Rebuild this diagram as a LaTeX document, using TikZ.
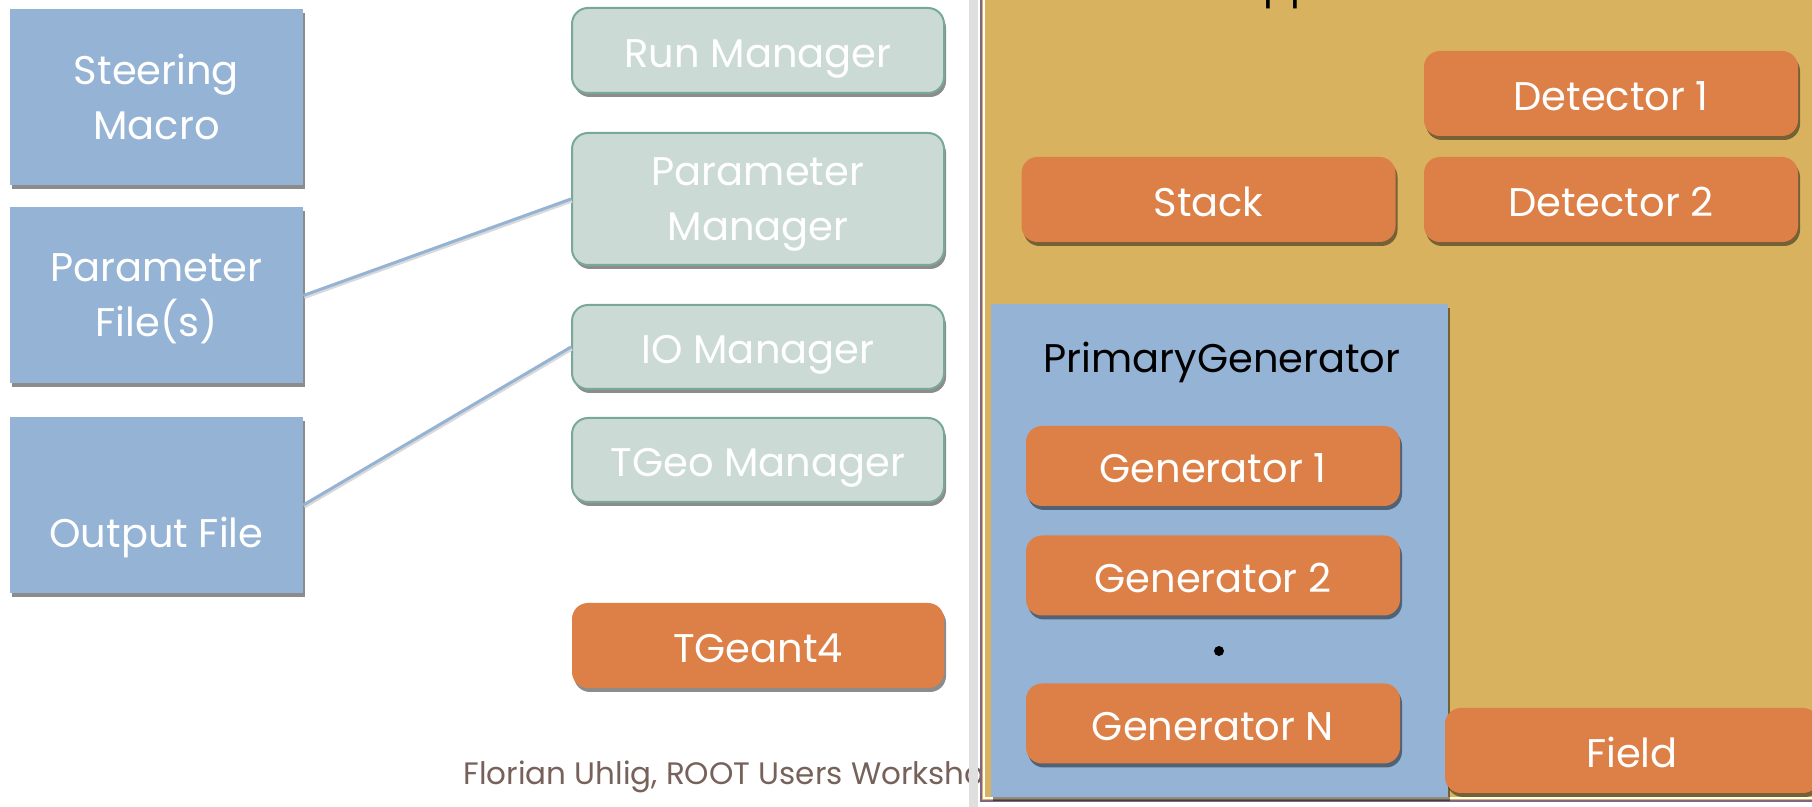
\documentclass[tikz,border=0pt]{standalone}
\usepackage{fontspec}
\setmainfont{Poppins}
\usetikzlibrary{shadows}
\definecolor{boxblue}{HTML}{95B3D5}
\definecolor{mgrfill}{HTML}{CBDAD5}
\definecolor{mgredge}{HTML}{78A899}
\definecolor{vmcorange}{HTML}{DD8047}
\definecolor{appgold}{HTML}{D8B25F}
\definecolor{footbrown}{HTML}{76625A}
\tikzset{
  txt/.style={font=\fontsize{20}{27.5}\selectfont, text=white, align=center},
  oneline/.style={text height=17pt, text depth=0pt},
  boxshadow/.style={drop shadow={shadow xshift=1pt, shadow yshift=-2pt, opacity=0.45, fill=black}},
  inbox/.style={txt, fill=boxblue, boxshadow, minimum width=146.5pt, minimum height=88pt, inner sep=0pt, text depth=0pt},
  mgrbox/.style={txt, fill=mgrfill, draw=mgredge, line width=1pt, rounded corners=8pt, boxshadow, minimum width=186pt, inner sep=0pt},
  vmcbox/.style={txt, oneline, fill=vmcorange, rounded corners=8pt, boxshadow, minimum width=187pt, minimum height=42.5pt, inner sep=0pt},
  link/.style={boxblue, line width=1.5pt, preaction={draw=black!15, line width=1.5pt, transform canvas={xshift=0.5pt, yshift=-1pt}}},
}

\begin{document}
\begin{tikzpicture}[x=0.5pt,y=-0.5pt]
\useasboundingbox (0,0) rectangle (1812,807);
\fill[white] (0,0) rectangle (1812,807);

% input files
\node[inbox] (steer) at (156.5,97) {Steering\\Macro};
\node[inbox] (parfile) at (156.5,295.5) {Parameter\\File(s)};
\node[inbox, label={[txt, yshift=-16pt]center:Output File}] (outfile) at (156.5,505) {};

% managers
\node[mgrbox, oneline, minimum height=42.5pt] (runmgr) at (758,50.5) {Run Manager};
\node[mgrbox, text depth=0pt, minimum height=66pt] (parmgr) at (758,199) {Parameter\\Manager};
\node[mgrbox, oneline, minimum height=42pt] (iomgr) at (758,347) {IO Manager};
\node[mgrbox, oneline, minimum height=42pt] (geomgr) at (758,460) {TGeo Manager};
\node[vmcbox, minimum width=186pt] (geant) at (758,645.5) {TGeant4};

\draw[link] (parfile.east) -- (parmgr.west);
\draw[link] (outfile.east) -- (iomgr.west);

\node[font=\fontsize{15.5}{20}\selectfont, text=footbrown, anchor=base west, inner sep=0pt] (foot) at (463,784) {Florian Uhlig, ROOT Users Workshop};

% application panel
\fill[gray!25] (969,-5) rectangle (978,812);
\fill[appgold] (980,-5) rectangle (1820,802);
\draw[gray!80!violet, line width=0.6pt] (981,-5) rectangle (1820,801);
\draw[white, line width=1pt] (984,-5) rectangle (1820,798);
\node[font=\fontsize{20}{24}\selectfont, anchor=base west, inner sep=0pt] (apptitle) at (1236,-1) {Application};

\node[vmcbox] (det1) at (1611,93.5) {Detector 1};
\node[vmcbox] (det2) at (1611,199.5) {Detector 2};
\node[vmcbox] (stack) at (1208.5,199.5) {Stack};

% primary generator
\node[fill=boxblue, boxshadow, minimum width=228.5pt, minimum height=246.5pt, inner sep=0pt] (primgen) at (1219.5,550.5) {};
\node[font=\fontsize{20}{24}\selectfont, anchor=base, inner sep=0pt] (primlabel) at (1222,373) {PrimaryGenerator};
\foreach \n/\y in {1/466,2/575.5,N/723.5}
  \node[vmcbox, minimum height=40pt] (gen\n) at (1213,\y) {Generator \n};
\node[circle, fill, inner sep=0pt, minimum size=5pt] (gendots) at (1219,651) {};

\node[vmcbox] (field) at (1632,750.5) {Field};
\end{tikzpicture}
\end{document}
